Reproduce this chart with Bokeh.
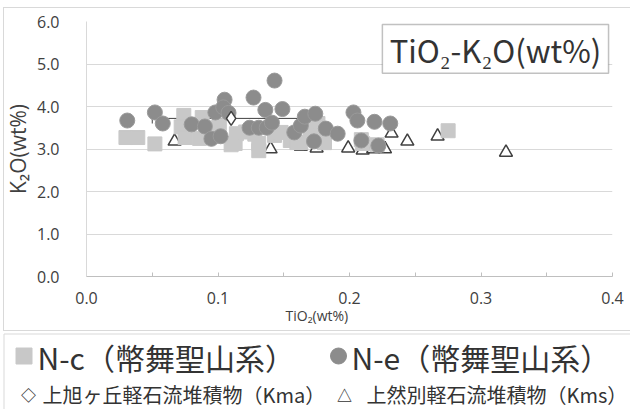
from bokeh.plotting import figure
from bokeh.layouts import column
from bokeh.models import Range1d, FixedTicker, Label, BoxAnnotation, Title, InlineStyleSheet
from bokeh.core.properties import value
from bokeh.embed import file_html
from bokeh.resources import INLINE

# ---------------- data ----------------
nc_x = [0.030, 0.039, 0.052, 0.074, 0.072, 0.075, 0.088, 0.086, 0.095, 0.101, 0.110,
        0.113, 0.114, 0.121, 0.128, 0.131, 0.131, 0.143, 0.148, 0.155, 0.160, 0.163,
        0.170, 0.176, 0.178, 0.181, 0.209, 0.210, 0.221, 0.275]
nc_y = [3.27, 3.27, 3.12, 3.79, 3.52, 3.27, 3.74, 3.25, 3.50, 3.55, 3.10,
        3.13, 3.36, 3.40, 3.35, 3.13, 2.96, 3.32, 3.39, 3.20, 3.15, 3.15,
        3.45, 3.60, 3.30, 3.15, 3.22, 3.13, 3.10, 3.43]

ne_x = [0.031, 0.052, 0.058, 0.080, 0.090, 0.095, 0.098, 0.102, 0.105, 0.104, 0.108,
        0.127, 0.124, 0.131, 0.137, 0.136, 0.143, 0.141, 0.149, 0.158, 0.163, 0.166,
        0.174, 0.173, 0.182, 0.191, 0.203, 0.206, 0.209, 0.219, 0.222, 0.231]
ne_y = [3.67, 3.86, 3.60, 3.58, 3.53, 3.24, 3.86, 3.30, 4.16, 3.98, 3.85,
        4.21, 3.50, 3.50, 3.50, 3.92, 4.61, 3.62, 3.94, 3.39, 3.55, 3.76,
        3.83, 3.18, 3.48, 3.36, 3.86, 3.67, 3.20, 3.64, 3.08, 3.60]

kma_x = [0.110]
kma_y = [3.72]
kma_xerr = [0.060]

kms_x = [0.067, 0.140, 0.163, 0.175, 0.199, 0.210, 0.218, 0.227, 0.232, 0.244, 0.267, 0.319]
kms_y = [3.18, 3.00, 3.06, 3.02, 3.02, 2.97, 3.00, 3.00, 3.37, 3.18, 3.30, 2.92]

x_ticks = [0.0, 0.1, 0.2, 0.3, 0.4]
x_minor_ticks = [0.05, 0.15, 0.25, 0.35]
x_tick_labels = ["0.0", "0.1", "0.2", "0.3", "0.4"]
y_ticks = [0, 1, 2, 3, 4, 5, 6]
y_tick_labels = ["0.0", "1.0", "2.0", "3.0", "4.0", "5.0", "6.0"]

title_text = "TiO₂-K₂O(wt%)"
x_title = "TiO₂(wt%)"
y_title = "K₂O(wt%)"
legend_nc = "N-c（幣舞聖山系）"
legend_ne = "N-e（幣舞聖山系）"
legend_kma = "上旭ヶ丘軽石流堆積物（Kma）"
legend_kms = "上然別軽石流堆積物（Kms）"

LATIN = "Open Sans"
CJK = "Noto Sans CJK JP"
TXT = "#404040"

# ---------------- main chart ----------------
p = figure(width=630, height=331, x_range=Range1d(0, 0.4), y_range=Range1d(0, 6),
           output_backend="svg", toolbar_location=None,
           min_border_left=84, min_border_right=18, min_border_top=21, min_border_bottom=55)
p.frame_align = False
p.outline_line_color = None
p.background_fill_color = "white"
p.border_fill_color = "white"
# light grey chart-area border drawn on top of the canvas
p.stylesheets = [InlineStyleSheet(css=(
    ":host::after { content: ''; position: absolute; left: 3px; top: 7px; right: -5px; "
    "bottom: 0px; border: 1px solid #d9d9d9; pointer-events: none; z-index: 10; }"))]

p.xgrid.grid_line_color = None
p.ygrid.ticker = FixedTicker(ticks=y_ticks)
p.ygrid.grid_line_color = "#d9d9d9"
p.ygrid.grid_line_width = 1

p.xaxis.ticker = FixedTicker(ticks=x_ticks, minor_ticks=x_minor_ticks)
p.xaxis.major_label_overrides = {t: l for t, l in zip(x_ticks, x_tick_labels)}
p.xaxis.axis_line_color = "#bfbfbf"
p.xaxis.major_tick_line_color = "#bfbfbf"
p.xaxis.minor_tick_line_color = "#bfbfbf"
p.xaxis.major_tick_in = 4
p.xaxis.major_tick_out = 0
p.xaxis.minor_tick_in = 4
p.xaxis.minor_tick_out = 0
p.xaxis.major_label_standoff = 15
p.xaxis.major_label_text_font = LATIN
p.xaxis.major_label_text_font_size = "16px"
p.xaxis.major_label_text_color = TXT

p.yaxis.ticker = FixedTicker(ticks=y_ticks)
p.yaxis.major_label_overrides = {t: l for t, l in zip(y_ticks, y_tick_labels)}
p.yaxis.axis_line_color = "#d9d9d9"
p.yaxis.major_tick_line_color = None
p.yaxis.minor_tick_line_color = None
p.yaxis.major_label_standoff = 21
p.yaxis.major_label_text_font = LATIN
p.yaxis.major_label_text_font_size = "16px"
p.yaxis.major_label_text_color = TXT
p.yaxis.axis_label = y_title
p.yaxis.axis_label_text_font = LATIN
p.yaxis.axis_label_text_font_style = "normal"
p.yaxis.axis_label_text_font_size = "21px"
p.yaxis.axis_label_text_color = TXT
p.yaxis.axis_label_standoff = 2

# x axis title, offset to the left like the reference
p.add_layout(Title(text=x_title, align="left", offset=199, standoff=-5,
                   text_font=LATIN, text_font_size="14px", text_font_style="normal",
                   text_color=TXT), "below")

# error bar for Kma
ex0 = [x - e for x, e in zip(kma_x, kma_xerr)]
ex1 = [x + e for x, e in zip(kma_x, kma_xerr)]
p.segment(x0=ex0, y0=kma_y, x1=ex1, y1=kma_y, line_color="#404040", line_width=1)
p.segment(x0=ex0 + ex1, y0=kma_y + kma_y, x1=ex0 + ex1, y1=[y - 0.12 for y in kma_y + kma_y],
          line_color="#404040", line_width=1)

p.scatter(kms_x, kms_y, marker="triangle", size=13, fill_color="white",
          line_color="#404040", line_width=1.5)
p.scatter(nc_x, nc_y, marker="square", size=14, fill_color="#c8c8c8", line_color="#c8c8c8")
p.scatter(ne_x, ne_y, marker="circle", size=15, fill_color="#8c8c8c", line_color="#9a9a9a")
p.scatter(kma_x, kma_y, marker="diamond", size=14, fill_color="white",
          line_color="#404040", line_width=1.5)

# title box
p.add_layout(BoxAnnotation(left=0.225, right=0.397, bottom=4.78, top=5.93,
                           fill_color="white", fill_alpha=1.0, line_color="#333333", line_width=1.5,
                           level="overlay"))
p.add_layout(Label(x=0.311, y=5.35, text=title_text, text_align="center", text_baseline="middle",
                   text_font=CJK, text_font_size="31px", text_color="#333333", level="overlay"))

# ---------------- legend panel ----------------
LH = 78
lp = figure(width=630, height=LH, x_range=Range1d(0, 630), y_range=Range1d(LH, 0),
            output_backend="svg", toolbar_location=None, x_axis_location=None, y_axis_location=None,
            min_border_left=0, min_border_right=0, min_border_top=0, min_border_bottom=0)
lp.frame_align = False
lp.grid.visible = False
lp.outline_line_color = None
lp.background_fill_color = "white"
lp.border_fill_color = "white"

lp.quad(left=[3.5], right=[640], top=[2.5], bottom=[LH + 10], fill_color=None,
        line_color="#d9d9d9", line_width=1)

lp.scatter([23.5], [24.5], marker="square", size=16, fill_color="#c8c8c8", line_color="#c8c8c8")
lp.scatter([338], [24.5], marker="circle", size=16, fill_color="#8c8c8c", line_color="#8c8c8c")
lp.text(x=[37, 351], y=[25, 25], text=[legend_nc, legend_ne], text_font=value(CJK),
        text_font_size="30px", text_baseline="middle", text_align="left", text_color="#333333")

lp.text(x=[28, 344], y=[63, 63], text=["◇", "△"], text_font=value(CJK),
        text_font_size="15px", text_font_style="bold", text_baseline="middle",
        text_align="center", text_color="#333333")
lp.text(x=[42, 366], y=[63, 63], text=[legend_kma, legend_kms], text_font=value(CJK),
        text_font_size="20px", text_baseline="middle", text_align="left", text_color="#333333")

layout = column(p, lp, spacing=0)
open("out.html", "w").write(file_html(layout, INLINE))
